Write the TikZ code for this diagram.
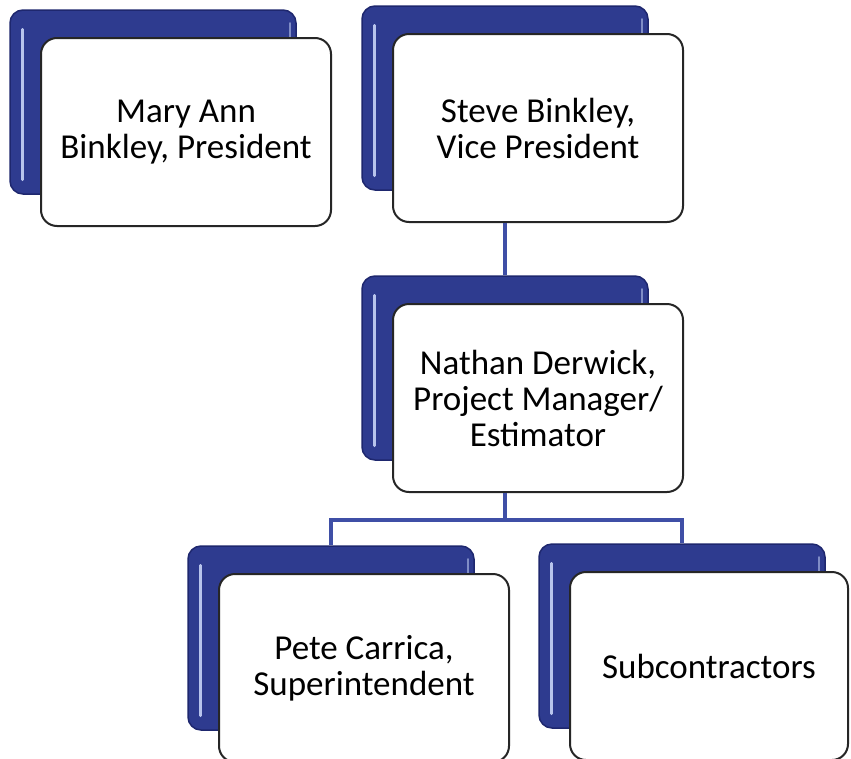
\documentclass[tikz,border=0pt]{standalone}
\usepackage{fontspec}
\setmainfont{Carlito}
\usetikzlibrary{positioning}
\definecolor{cardblue}{HTML}{2E3B8F}
\definecolor{carddark}{HTML}{1E276E}
\definecolor{cardshine}{HTML}{B8C4EC}
\definecolor{linkblue}{HTML}{3F4FA6}
\tikzset{
cardback/.style={
	draw=carddark, fill=cardblue, line width=1.5pt, rounded corners=13pt,
	minimum width=286pt, minimum height=184pt, inner sep=0pt},
card/.style={
	draw=black!85, fill=white, line width=2pt, rounded corners=16pt,
	minimum height=188pt, align=center, inner sep=0pt,
	font=\fontsize{35}{36}\selectfont},
shine/.style={cardshine, line width=2.5pt, line cap=round},
link/.style={draw=linkblue, line width=3.5pt}
}

\begin{document}
\begin{tikzpicture}[x=1pt, y=-1pt]
	\useasboundingbox[fill=white] (0,0) rectangle (851,758);
	\foreach \n/\x/\y/\w/\t in {
		mary/153/102/290/{Mary Ann\\Binkley, President},
		steve/505/98/290/{Steve Binkley,\\Vice President},
		nathan/505/368/290/{Nathan Derwick,\\Project Manager/\\Estimator},
		pete/331/638/290/{Pete Carrica,\\Superintendent},
		subs/682/636/278/{Subcontractors}}{
		\node[cardback] (\n-back) at (\x,\y) {};
		\draw[shine] ([xshift=13pt, yshift=-20pt]\n-back.north west)
			-- ([xshift=13pt, yshift=15pt]\n-back.south west);
		\draw[shine, opacity=.6] ([xshift=-7pt, yshift=-14pt]\n-back.north east)
			-- ([xshift=-7pt, yshift=-30pt]\n-back.north east);
		\node[card, minimum width=\w pt] (\n) at (\x-112+\w/2,\y+30) {\t};
	}
	\draw[link] (nathan-back.north |- steve.south) -- (nathan-back.north);
	\draw[link] (nathan-back.north |- nathan.south) -- ++(0,27) coordinate (fork);
	\draw[link] (pete-back.north) |- (fork) -| (subs-back.north);
\end{tikzpicture}
\end{document}
